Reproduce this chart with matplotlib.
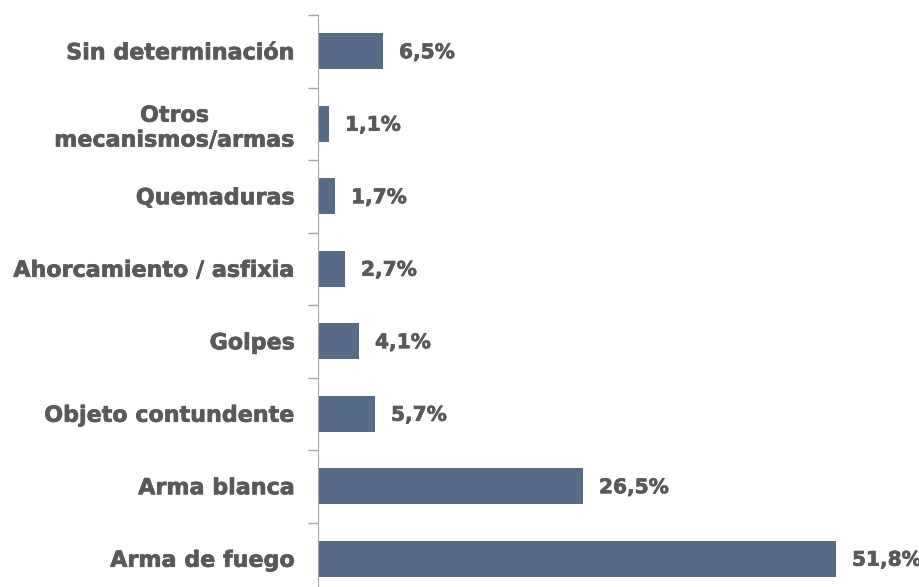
import matplotlib

matplotlib.use("Agg")
import matplotlib.patheffects as pe
import matplotlib.pyplot as plt
import numpy as np

# datos (de abajo hacia arriba)
categorias = [
    "Arma de fuego",
    "Arma blanca",
    "Objeto contundente",
    "Golpes",
    "Ahorcamiento / asfixia",
    "Quemaduras",
    "Otros\nmecanismos/armas",
    "Sin determinación",
]
porcentajes = [51.8, 26.5, 5.7, 4.1, 2.7, 1.7, 1.1, 6.5]
etiquetas = ["51,8%", "26,5%", "5,7%", "4,1%", "2,7%", "1,7%", "1,1%", "6,5%"]

color_barra = "#566b87"
color_texto = "#595959"

plt.rcParams["font.family"] = ["DejaVu Sans"]
# trazo fino para engrosar la letra (la original es Montserrat Bold)
grueso = [pe.withStroke(linewidth=0.5, foreground=color_texto)]

fig = plt.figure(figsize=(9.2, 5.87), dpi=100)
ax = fig.add_axes([318 / 920, -8 / 587, 600 / 920, 580 / 587])

y = np.arange(len(categorias))
ax.barh(y, porcentajes, height=0.5, color=color_barra)

for yi, v, t in zip(y, porcentajes, etiquetas):
    ax.text(v + 1.6, yi - 0.02, t, va="center", ha="left", fontsize=14.5,
            fontweight="bold", color=color_texto, path_effects=grueso)

ax.set_xlim(0, 60)
ax.set_ylim(-0.5, len(categorias) - 0.5)
ax.set_yticks(y)
ax.set_yticklabels(categorias, fontsize=16, fontweight="bold", color=color_texto,
                   linespacing=1.3)
for lab in ax.get_yticklabels():
    lab.set_multialignment("center")
    lab.set_path_effects(grueso)
ax.tick_params(axis="y", which="major", length=0, pad=16.5)
ax.set_yticks(np.arange(-0.5, len(categorias), 1), minor=True)
ax.tick_params(axis="y", which="minor", length=7, color="#a6a6a6", width=1)
ax.set_xticks([])

for s in ["top", "right", "bottom"]:
    ax.spines[s].set_visible(False)
ax.spines["left"].set_color("#a6a6a6")

fig.savefig("out.png", dpi=100)
plt.close(fig)
